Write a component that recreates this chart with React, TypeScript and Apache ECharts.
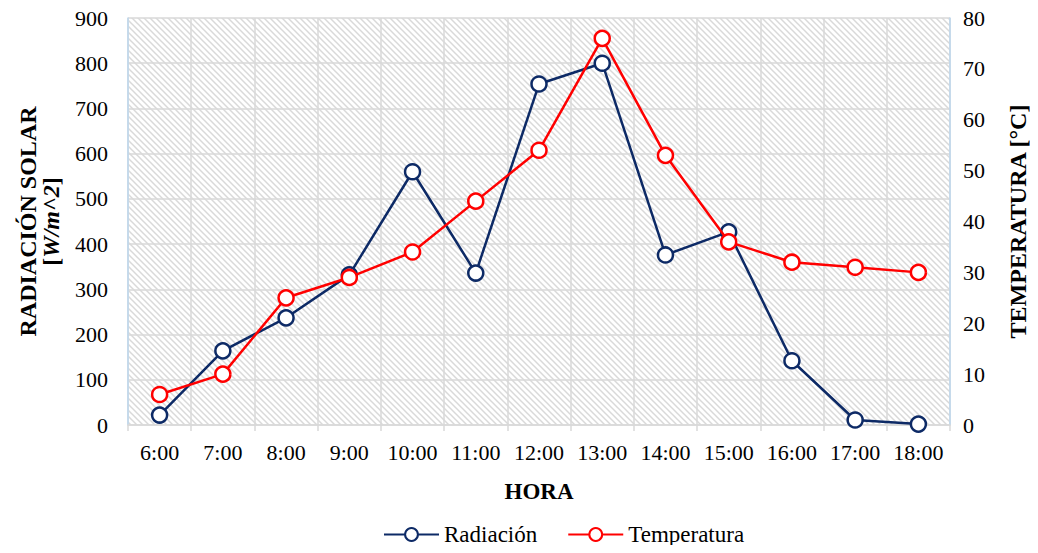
import React, { useEffect, useRef } from "react";
import * as echarts from "echarts";

const horas = ["6:00", "7:00", "8:00", "9:00", "10:00", "11:00", "12:00", "13:00", "14:00", "15:00", "16:00", "17:00", "18:00"];
const radiacion = [22, 164, 237, 332, 560, 336, 754, 800, 376, 427, 142, 11, 2];
const temperatura = [6, 10, 25, 29, 34, 44, 54, 76, 53, 36, 32, 31, 30];

const hatch =
  "data:image/svg+xml;charset=utf-8," +
  encodeURIComponent(
    '<svg xmlns="http://www.w3.org/2000/svg" width="6" height="6"><path d="M-1,-1 L7,7 M-4,2 L2,8 M2,-4 L8,2" stroke="#d9d9d9" stroke-width="1.5"/></svg>'
  );

const FONT = "Liberation Serif";

export default function App() {
  const ref = useRef<HTMLDivElement>(null);
  useEffect(() => {
    if (!ref.current) return;
    const chart = echarts.init(ref.current, undefined, { renderer: "svg" });
    const img = new Image();
    img.src = hatch;
    chart.setOption({
      animation: false,
      textStyle: { fontFamily: FONT },
      grid: {
        left: 128,
        right: 83,
        top: 18,
        bottom: 128,
        show: true,
        borderWidth: 0,
        backgroundColor: { image: img, repeat: "repeat" } as any,
      },
      legend: {
        bottom: 2,
        left: 378,
        itemWidth: 55,
        itemHeight: 16,
        itemGap: 30,
        textStyle: { fontFamily: FONT, fontSize: 23, color: "#000" },
        data: ["Radiación", "Temperatura"],
      },
      xAxis: {
        type: "category",
        data: horas,
        boundaryGap: true,
        name: "HORA",
        nameLocation: "middle",
        nameGap: 55,
        nameTextStyle: { fontFamily: FONT, fontSize: 23, fontWeight: "bold", color: "#000" },
        axisLine: { lineStyle: { color: "#d9d9d9", width: 1.5 } },
        axisTick: { show: true, interval: 0, length: 6, lineStyle: { color: "#d9d9d9", width: 1.5 } },
        axisLabel: { interval: 0, fontFamily: FONT, fontSize: 22, color: "#000", margin: 16, hideOverlap: false },
        splitLine: { show: true, interval: 0, lineStyle: { color: "#d9d9d9", width: 1.5 } },
      },
      yAxis: [
        {
          type: "value",
          min: 0,
          max: 900,
          interval: 100,
          position: "left",
          name: "{b|RADIACIÓN SOLAR}\n{b|[}{i|W/m^2}{b|]}",
          nameLocation: "middle",
          nameRotate: 90,
          nameGap: 66,
          nameTextStyle: {
            rich: {
              b: { fontFamily: FONT, fontSize: 24, fontWeight: "bold", color: "#000", lineHeight: 23 },
              i: { fontFamily: FONT, fontSize: 24, fontWeight: "bold", fontStyle: "italic", color: "#000", lineHeight: 23 },
            },
          },
          axisLine: { show: true, lineStyle: { color: "#bdd7ee", width: 1.5 } },
          axisTick: { show: false },
          axisLabel: { fontFamily: FONT, fontSize: 22, color: "#000", margin: 20 },
          splitLine: { show: true, lineStyle: { color: "#d9d9d9", width: 1.5 } },
        },
        {
          type: "value",
          min: 0,
          max: 80,
          interval: 10,
          position: "right",
          name: "TEMPERATURA [°C]",
          nameLocation: "middle",
          nameRotate: 90,
          nameGap: 56,
          nameTextStyle: { fontFamily: FONT, fontSize: 24, fontWeight: "bold", color: "#000" },
          axisLine: { show: true, lineStyle: { color: "#bdd7ee", width: 1.5 } },
          axisTick: { show: false },
          axisLabel: { fontFamily: FONT, fontSize: 22, color: "#000", margin: 13 },
          splitLine: { show: false },
        },
      ],
      series: [
        {
          name: "Radiación",
          type: "line",
          yAxisIndex: 0,
          data: radiacion,
          symbol: "circle",
          symbolSize: 15,
          color: "#0d2a66",
          lineStyle: { color: "#0d2a66", width: 2.5 },
          itemStyle: { color: "#fff", borderColor: "#0d2a66", borderWidth: 2.5 },
          z: 3,
        },
        {
          name: "Temperatura",
          type: "line",
          yAxisIndex: 1,
          data: temperatura,
          symbol: "circle",
          symbolSize: 15,
          color: "#ff0000",
          lineStyle: { color: "#ff0000", width: 2.5 },
          itemStyle: { color: "#fff", borderColor: "#ff0000", borderWidth: 2.5 },
          z: 4,
        },
      ],
    });
    img.onload = () => chart.resize();
    return () => chart.dispose();
  }, []);
  return <div ref={ref} style={{ width: 1038, height: 553, margin: -8 }} />;
}
